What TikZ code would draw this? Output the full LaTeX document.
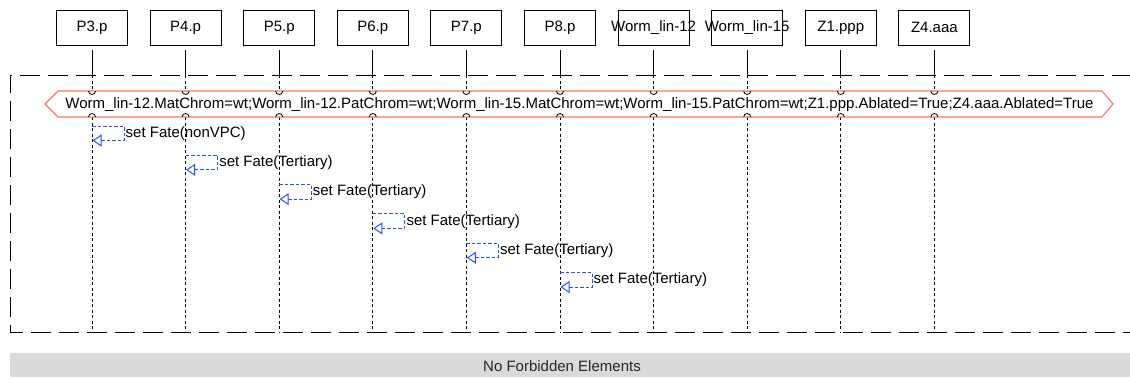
\documentclass[tikz,border=0pt]{standalone}
\usepackage{fontspec}
\setmainfont{Liberation Sans}
\usetikzlibrary{arrows.meta}
\definecolor{msgblue}{HTML}{2850FF}
\definecolor{hexred}{HTML}{F07A68}
\definecolor{bargray}{HTML}{D9DBDB}
\begin{document}
\begin{tikzpicture}[x=1pt,y=-1pt,
  every node/.style={font=\fontsize{15}{17}\selectfont, inner sep=0pt},
  objbox/.style={draw, line width=0.9pt, minimum width=71pt, minimum height=35pt},
  lifesolid/.style={line width=0.9pt},
  lifedot/.style={line width=0.9pt, dash pattern=on 3pt off 2.5pt},
  framedash/.style={line width=1pt, dash pattern=on 20pt off 8pt},
  hexline/.style={draw=hexred, line width=1.1pt, fill=white},
  selfmsg/.style={draw=msgblue, line width=1pt, dash pattern=on 3.5pt off 2pt,
     -{Triangle[open, length=9pt, width=12pt, line width=1pt]}},
  msglabel/.style={anchor=west},
  bump/.style={line width=0.8pt}
]
\useasboundingbox (0,0) rectangle (1130,378);

% frame
\coordinate (fTR) at (1132,75);
\coordinate (fTL) at (10,75);
\coordinate (fBL) at (10,332);
\coordinate (fBR) at (1132,332);
\draw[framedash] (fTR) -- (fTL) -- (fBL) -- (fBR);

% objects and lifelines
\foreach \i/\lab in {0/P3.p,1/P4.p,2/P5.p,3/P6.p,4/P7.p,5/P8.p,6/Worm\_lin-12,7/Worm\_lin-15,8/Z1.ppp,9/Z4.aaa}{
  \pgfmathsetmacro{\xx}{92+93.6*\i}
  \node[objbox] (b\i) at (\xx,27.5) {};
  \node (t\i) at (\xx,27.5) {\lab};
  \coordinate (s\i) at (\xx,50);
  \coordinate (f\i) at (\xx,75);
  \coordinate (h\i) at (\xx,91);
  \coordinate (g\i) at (\xx,117);
  \coordinate (e\i) at (\xx,332);
  \draw[lifesolid] (s\i) -- (f\i);
  \draw[lifedot] (f\i) -- (h\i);
  \draw[lifedot] (g\i) -- (e\i);
}

% hexagon condition
\coordinate (hL) at (45,104);
\coordinate (hTL) at (58,91);
\coordinate (hTR) at (1102,91);
\coordinate (hR) at (1113,104);
\coordinate (hBR) at (1102,117);
\coordinate (hBL) at (58,117);
\draw[hexline] (hL) -- (hTL) -- (hTR) -- (hR) -- (hBR) -- (hBL) -- cycle;
\node (cond) at (579.5,104.5) {Worm\_lin-12.MatChrom=wt;Worm\_lin-12.PatChrom=wt;Worm\_lin-15.MatChrom=wt;Worm\_lin-15.PatChrom=wt;Z1.ppp.Ablated=True;Z4.aaa.Ablated=True};

% bumps where lifelines meet the condition
\foreach \i in {0,...,9}{
  \draw[bump] ([xshift=-3.5pt]h\i) arc (180:360:3.5pt);
  \draw[bump] ([xshift=-3.5pt]g\i) arc (180:0:3.5pt);
}

% self messages
\foreach \i/\lab in {0/nonVPC,1/Tertiary,2/Tertiary,3/Tertiary,4/Tertiary,5/Tertiary}{
  \pgfmathsetmacro{\xx}{92+93.6*\i}
  \pgfmathsetmacro{\yt}{126+29.3*\i}
  \coordinate (m\i a) at (\xx,\yt);
  \coordinate (m\i b) at (\xx+32,\yt);
  \coordinate (m\i c) at (\xx+32,\yt+14.5);
  \coordinate (m\i d) at (\xx+0.5,\yt+14.5);
  \draw[selfmsg] (m\i a) -- (m\i b) -- (m\i c) -- (m\i d);
  \node[msglabel] (ml\i) at (\xx+33.5,\yt+7.5) {set Fate(\lab)};
}

% bottom bar
\coordinate (barA) at (10,353);
\coordinate (barB) at (1132,377);
\fill[bargray] (barA) rectangle (barB);
\node[text=black!85] (nofe) at (562,366) {No Forbidden Elements};
\end{tikzpicture}
\end{document}
